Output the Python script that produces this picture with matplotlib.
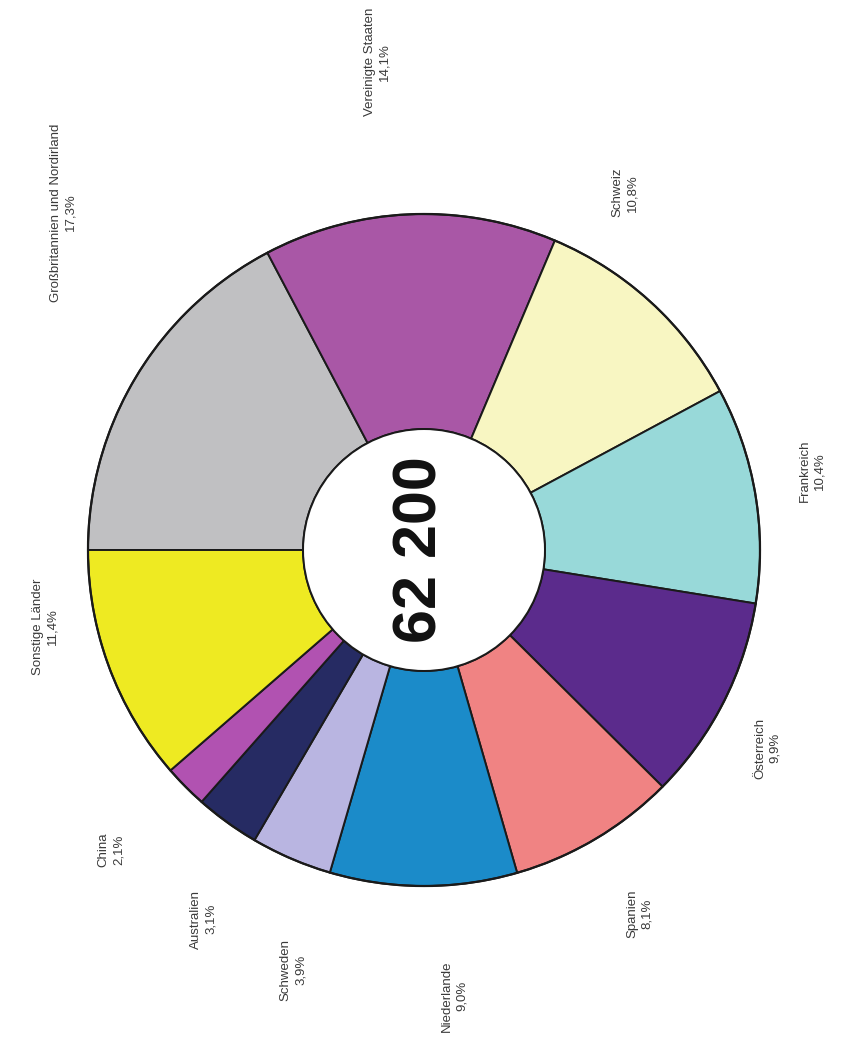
import matplotlib
matplotlib.use("Agg")
import matplotlib.pyplot as plt
import numpy as np

# Share of total, per country (percent)
countries = [
    "Großbritannien und Nordirland", "Vereinigte Staaten", "Schweiz",
    "Frankreich", "Österreich", "Spanien", "Niederlande", "Schweden",
    "Australien", "China", "Sonstige Länder",
]
shares = [17.3, 14.1, 10.8, 10.4, 9.9, 8.1, 9.0, 3.9, 3.1, 2.1, 11.4]
total_label = "62 200"

colors = [
    "#c0c0c2", "#a957a6", "#f8f6c2", "#98d9d9", "#5b2b8c", "#f08383",
    "#1b8bc9", "#b9b5e1", "#262b63", "#b152b1", "#eeea22",
]

# label placement: angular nudge (deg) and radius relative to outer ring
label_nudge = [-12, 3, 13, 2, -3, 0, 4, 6, 5, -1, -9]
label_radius = [1.47, 1.46, 1.22, 1.18, 1.18, 1.26, 1.33, 1.31, 1.28, 1.29, 1.15]

plt.rcParams["font.family"] = ["Liberation Sans", "DejaVu Sans"]

W, H = 841, 1055
fig = plt.figure(figsize=(W / 100, H / 100), dpi=100)
ax = fig.add_axes([0, 0, 1, 1])

R_px = 336.0
cx, cy = 424.0, 550.0

wedges, _ = ax.pie(
    shares,
    colors=colors,
    startangle=180,
    counterclock=False,
    radius=1.0,
    wedgeprops=dict(width=0.64, edgecolor="#1a1a1a", linewidth=1.4),
)

ax.set_xlim(-cx / R_px, (W - cx) / R_px)
ax.set_ylim(-(H - cy) / R_px, cy / R_px)
ax.set_aspect("equal")
ax.axis("off")

# white hole with outline
hole = plt.Circle((0, 0), 0.36, facecolor="white", edgecolor="#1a1a1a", linewidth=1.4, zorder=5)
ax.add_patch(hole)
outer = plt.Circle((0, 0), 1.0, facecolor="none", edgecolor="#1a1a1a", linewidth=1.6, zorder=5)
ax.add_patch(outer)

ax.text(-0.01, 0.0, total_label, rotation=90, ha="center", va="center",
        fontsize=44, fontweight="bold", color="#111111", zorder=6)

for w, name, val, dang, rr in zip(wedges, countries, shares, label_nudge, label_radius):
    mid = np.deg2rad((w.theta1 + w.theta2) / 2 + dang)
    x, y = rr * np.cos(mid), rr * np.sin(mid)
    txt = f"{name}\n{val:.1f}%".replace(".", ",")
    ax.text(x, y, txt, rotation=90, ha="center", va="center",
            multialignment="center", fontsize=9.5, color="#3a3a3a",
            linespacing=1.3)

fig.savefig("out.png", dpi=100, facecolor="white")
